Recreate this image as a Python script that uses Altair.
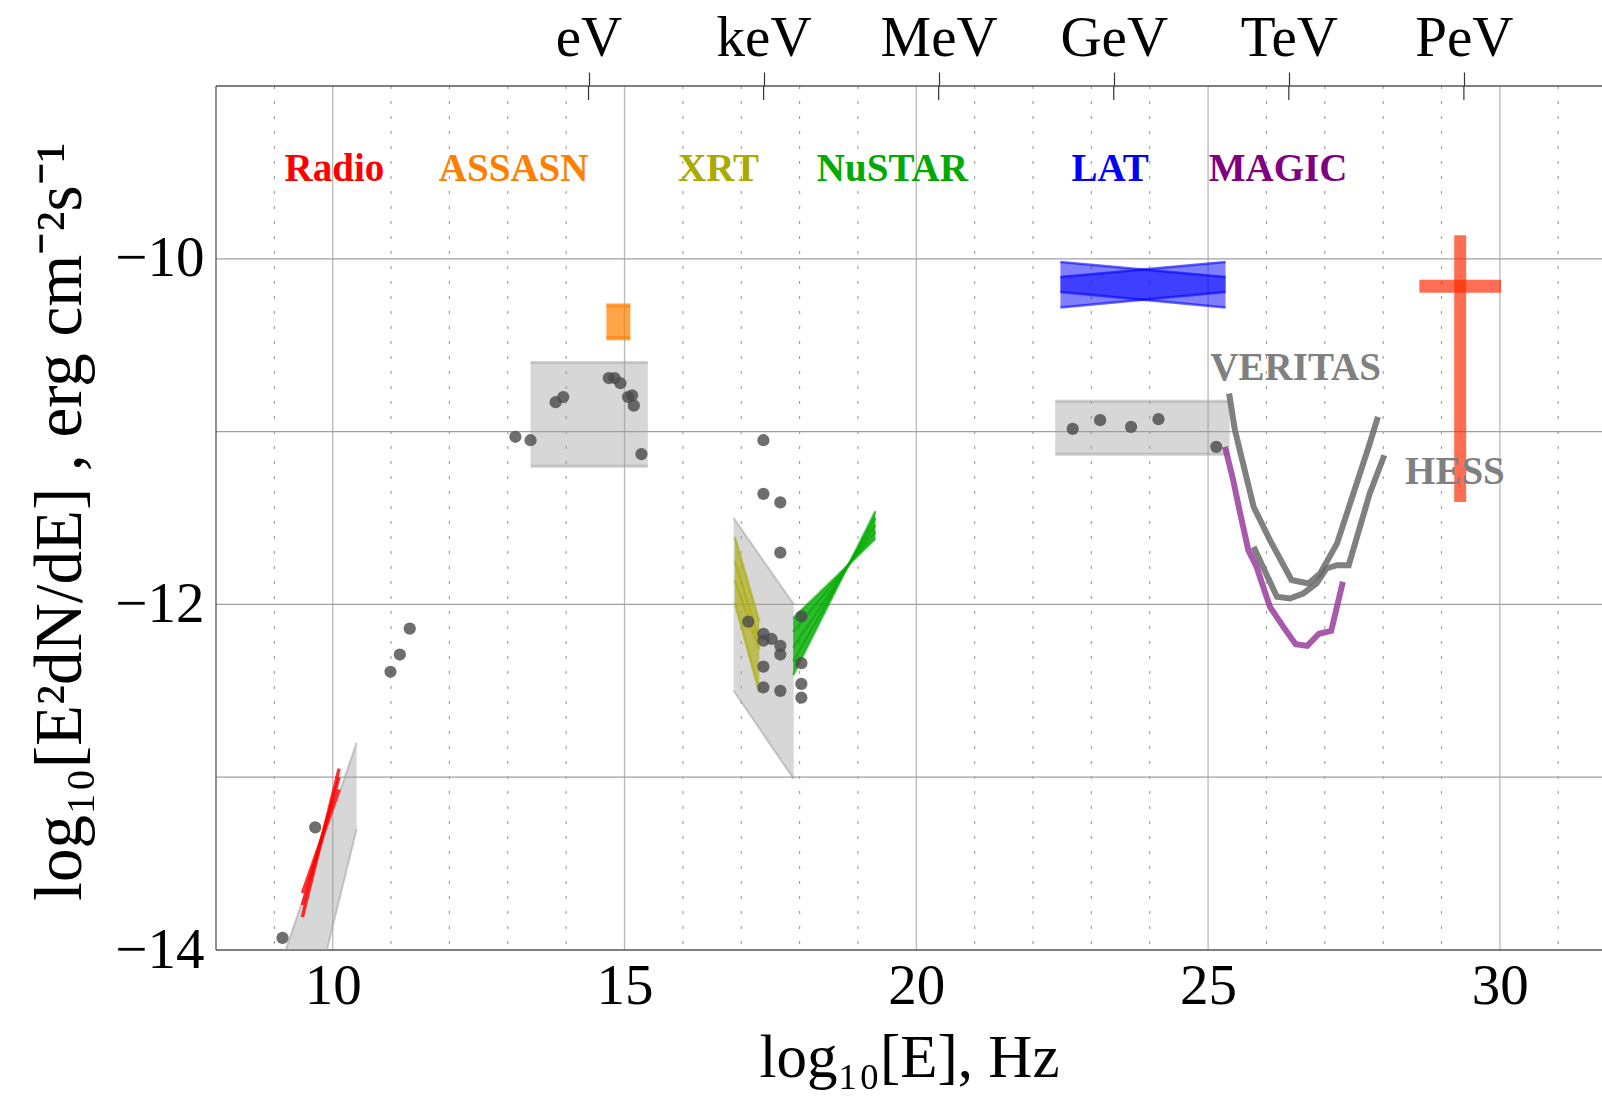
import altair as alt
import pandas as pd

FONT = "Liberation Serif"

# ---------------- data: log10(nu / Hz) vs log10(E^2 dN/dE / erg cm^-2 s^-1) ----------------
# archival SED points
sed_x = [9.14, 9.70, 10.99, 11.15, 11.32,
         13.13, 13.39, 13.82, 13.95, 14.73, 14.83, 14.93, 15.06, 15.13, 15.16, 15.29,
         17.38, 17.38, 17.67, 17.67, 17.12, 17.38, 17.38, 17.52, 17.67, 17.67, 17.38, 17.38, 17.67,
         18.03, 18.03, 18.03, 18.03,
         22.68, 23.15, 23.68, 24.15, 25.14]
sed_y = [-13.93, -13.29, -12.39, -12.29, -12.14,
         -11.03, -11.05, -10.83, -10.80, -10.69, -10.69, -10.72, -10.80, -10.79, -10.85, -11.13,
         -11.05, -11.36, -11.41, -11.70, -12.10, -12.17, -12.21, -12.20, -12.24, -12.29, -12.36, -12.48, -12.50,
         -12.07, -12.34, -12.46, -12.54,
         -10.984, -10.934, -10.973, -10.928, -11.088]

# grey archival ranges: rectangles (optical, GeV)
box_x1 = [13.39, 22.38]
box_x2 = [15.40, 25.37]
box_y1 = [-10.60, -10.824]
box_y2 = [-11.20, -11.131]

# grey archival ranges: slanted bands (radio, X-ray)
radio_band_x = [8.90, 10.41]
radio_band_hi = [-14.29, -12.80]
radio_band_lo = [-15.37, -13.30]
xray_band_x = [16.87, 17.90]
xray_band_hi = [-11.50, -12.00]
xray_band_lo = [-12.50, -13.01]

# radio power-law fits
radio_x = [9.48, 10.11]
radio_start = [-13.81, -13.74, -13.67]
radio_end = [-12.95, -13.00, -13.07]

# ASAS-SN optical flux range
assasn_x = [14.69, 15.10]
assasn_y = [-10.27, -10.46]

# Swift-XRT power-law fits
xrt_x = [16.89, 17.31]
xrt_start = [-11.61, -11.75, -11.86, -11.99]
xrt_end = [-12.10, -12.21, -12.26, -12.51]

# NuSTAR power-law fits and their envelope
nustar_x = [17.89, 19.30]
nustar_start = [-12.08, -12.16, -12.25, -12.33, -12.41]
nustar_end = [-11.62, -11.58, -11.54, -11.50, -11.46]
nustar_env_x = [17.89, 18.84, 19.30]
nustar_env_lo = [-12.41, -11.77, -11.62]
nustar_env_hi = [-12.08, -11.77, -11.46]

# Fermi-LAT bands (two crossing fits)
lat_x = [22.47, 25.30]
lat_hi = {"a": [-10.018, -10.105], "b": [-10.105, -10.018]}
lat_lo = {"a": [-10.192, -10.282], "b": [-10.282, -10.192]}

# IACT sensitivity curves
veritas_x = [25.36, 25.46, 25.78, 26.06, 26.43, 26.72, 26.92, 27.21, 27.77, 27.91]
veritas_y = [-10.780, -10.992, -11.435, -11.628, -11.859, -11.879, -11.821, -11.647, -11.069, -10.915]
hess_x = [25.78, 26.18, 26.40, 26.63, 26.86, 27.03, 27.21, 27.41, 27.77, 28.02]
hess_y = [-11.667, -11.956, -11.966, -11.937, -11.879, -11.792, -11.773, -11.773, -11.358, -11.137]
magic_x = [25.29, 25.43, 25.55, 25.69, 25.83, 26.06, 26.29, 26.50, 26.70, 26.90, 27.11, 27.31]
magic_y = [-11.088, -11.281, -11.474, -11.686, -11.782, -12.014, -12.130, -12.230, -12.240, -12.170, -12.153, -11.869]

# PeV flux estimate with error bars
pev_x, pev_x_lo, pev_x_hi = 29.32, 28.62, 30.02
pev_y, pev_y_lo, pev_y_hi = -10.159, -11.407, -9.864

# instrument labels
label_names = ["Radio", "ASSASN", "XRT", "NuSTAR", "LAT", "MAGIC", "VERITAS", "HESS"]
label_x = [10.03, 13.10, 16.61, 19.59, 23.32, 26.20, 26.50, 29.23]
label_y = [-9.48, -9.48, -9.48, -9.48, -9.48, -9.48, -10.632, -11.235]
label_colors = ["#ff0000", "#ff8000", "#aaaa00", "#00aa00", "#0000ff", "#800080", "#808080", "#808080"]

# axes
x_major = [10, 15, 20, 25, 30]
x_minor = [9, 11, 12, 13, 14, 16, 17, 18, 19, 21, 22, 23, 24, 26, 27, 28, 29, 31]
y_grid = [-13, -12, -11, -10]
y_labels = [-14, -12, -10]
energy_ticks = [14.3834, 17.3834, 20.3834, 23.3834, 26.3834, 29.3834]
energy_names = ["eV", "keV", "MeV", "GeV", "TeV", "PeV"]

# ---------------- chart ----------------
xs = alt.Scale(domain=[8, 31.75], nice=False, zero=False)
ys = alt.Scale(domain=[-14, -9], nice=False, zero=False)


def X(f="x"):
    return alt.X(f"{f}:Q", scale=xs, axis=None)


def Y(f="y"):
    return alt.Y(f"{f}:Q", scale=ys, axis=None)


def segments(x_pair, starts, ends):
    rows = []
    for i, (a, b) in enumerate(zip(starts, ends)):
        rows.append({"id": i, "x": x_pair[0], "y": a})
        rows.append({"id": i, "x": x_pair[1], "y": b})
    return pd.DataFrame(rows)


# grid
grid_minor = alt.Chart(pd.DataFrame({"x": x_minor})).mark_rule(
    color="#9c9c9c", strokeDash=[3, 12], strokeWidth=1.1).encode(x=X())

grid_major = alt.Chart(pd.DataFrame({"x": x_major})).mark_rule(
    color="#b8b8b8", strokeWidth=1.3).encode(
    x=alt.X("x:Q", scale=xs, axis=alt.Axis(
        orient="bottom", values=x_major, ticks=False, domain=False, grid=False,
        labelFont=FONT, labelFontSize=57, labelColor="black", labelPadding=8,
        title="log₁₀[E], Hz", titleFont=FONT, titleFontSize=61,
        titleFontWeight="normal", titleColor="black",
        titleBaseline="alphabetic", titleY=126)))

grid_y = alt.Chart(pd.DataFrame({"y": y_grid})).mark_rule(
    color="#a0a0a0", strokeWidth=1.3).encode(
    y=alt.Y("y:Q", scale=ys, axis=alt.Axis(
        orient="left", values=y_labels, ticks=False, domain=False, grid=False,
        labelFont=FONT, labelFontSize=57, labelColor="black", labelPadding=12,
        title="log₁₀[E²dN/dE] , erg cm⁻²s⁻¹", titleFont=FONT, titleFontSize=67,
        titleFontWeight="normal", titleColor="black", titleAngle=-90,
        titleBaseline="alphabetic", titleAlign="center", titleX=-136, titleY=435)))

# frame (left, top, bottom)
frame_left = alt.Chart(pd.DataFrame({"x": [8]})).mark_rule(
    color="#555555", strokeWidth=1.3).encode(x=X())
frame_h = alt.Chart(pd.DataFrame({"y": [-9, -14]})).mark_rule(
    color="#555555", strokeWidth=1.3).encode(y=Y())

# energy axis on top with ticks crossing the frame
energy = alt.Chart(pd.DataFrame({"x": energy_ticks})).mark_rule(
    color="#333333", strokeWidth=1.2).encode(
    x=alt.X("x:Q", scale=xs, axis=alt.Axis(
        orient="top", values=energy_ticks,
        labelExpr="['eV','keV','MeV','GeV','TeV','PeV'][round((datum.value-14.3834)/3)]",
        tickSize=14, tickColor="#333333", tickWidth=1.2, domain=False, grid=False,
        labelFont=FONT, labelFontSize=57, labelColor="black", labelPadding=5,
        title=None)),
    y=alt.value(0), y2=alt.value(14))

# grey archival ranges
boxes = alt.Chart(pd.DataFrame({"x1": box_x1, "x2": box_x2, "y1": box_y1, "y2": box_y2}))
box_fill = boxes.mark_rect(color="#9a9a9a", opacity=0.4).encode(
    x=X("x1"), x2="x2", y=Y("y1"), y2="y2")
box_edges = alt.layer(
    boxes.mark_rule(color="#9a9a9a", opacity=0.45, strokeWidth=3).encode(x=X("x1"), x2="x2", y=Y("y1")),
    boxes.mark_rule(color="#9a9a9a", opacity=0.45, strokeWidth=3).encode(x=X("x1"), x2="x2", y=Y("y2")),
)

bands = pd.concat([
    pd.DataFrame({"band": "radio", "x": radio_band_x, "lo": radio_band_lo, "hi": radio_band_hi}),
    pd.DataFrame({"band": "xray", "x": xray_band_x, "lo": xray_band_lo, "hi": xray_band_hi}),
])
band_base = alt.Chart(bands)
band_fill = band_base.mark_area(color="#9a9a9a", opacity=0.4, clip=True).encode(
    x=X(), y=Y("lo"), y2="hi", detail="band:N")
band_edge_lo = band_base.mark_line(color="#9a9a9a", opacity=0.5, strokeWidth=2, clip=True).encode(
    x=X(), y=Y("lo"), detail="band:N")
band_edge_hi = band_base.mark_line(color="#9a9a9a", opacity=0.5, strokeWidth=2, clip=True).encode(
    x=X(), y=Y("hi"), detail="band:N")

# radio fits
radio = alt.Chart(segments(radio_x, radio_start, radio_end)).mark_line(
    color="#ff0000", strokeWidth=3.5, opacity=0.8).encode(x=X(), y=Y(), detail="id:N")

# ASAS-SN
assasn_df = pd.DataFrame({"x1": [assasn_x[0]], "x2": [assasn_x[1]], "y1": [assasn_y[0]], "y2": [assasn_y[1]]})
assasn_box = alt.Chart(assasn_df).mark_rect(color="#ff8000", opacity=0.72).encode(
    x=X("x1"), x2="x2", y=Y("y1"), y2="y2")
assasn_caps = alt.layer(
    alt.Chart(assasn_df).mark_rule(color="#ff8000", opacity=0.75, strokeWidth=4).encode(x=X("x1"), x2="x2", y=Y("y1")),
    alt.Chart(assasn_df).mark_rule(color="#ff8000", opacity=0.75, strokeWidth=4).encode(x=X("x1"), x2="x2", y=Y("y2")),
)

# XRT
xrt_env = pd.DataFrame({"x": xrt_x, "lo": [xrt_start[-1], xrt_end[-1]], "hi": [xrt_start[0], xrt_end[0]]})
xrt_fill = alt.Chart(xrt_env).mark_area(color="#aaaa00", opacity=0.6).encode(x=X(), y=Y("lo"), y2="hi")
xrt_lines = alt.Chart(segments(xrt_x, xrt_start, xrt_end)).mark_line(
    color="#aaaa00", strokeWidth=2.5, opacity=0.6).encode(x=X(), y=Y(), detail="id:N")

# NuSTAR
nu_env = pd.DataFrame({"x": nustar_env_x, "lo": nustar_env_lo, "hi": nustar_env_hi})
nu_fill = alt.Chart(nu_env).mark_area(color="#00aa00", opacity=0.8).encode(x=X(), y=Y("lo"), y2="hi")
nu_lines = alt.Chart(segments(nustar_x, nustar_start, nustar_end)).mark_line(
    color="#00aa00", strokeWidth=2.5, opacity=0.6).encode(x=X(), y=Y(), detail="id:N")

# Fermi-LAT
lat_rows = []
for k in ["a", "b"]:
    for i in range(2):
        lat_rows.append({"band": k, "x": lat_x[i], "lo": lat_lo[k][i], "hi": lat_hi[k][i]})
lat_df = pd.DataFrame(lat_rows)
lat_fill = alt.Chart(lat_df).mark_area(color="#0000ff", opacity=0.5).encode(
    x=X(), y=Y("lo"), y2="hi", detail="band:N")
lat_edge_lo = alt.Chart(lat_df).mark_line(color="#0000ff", opacity=0.6, strokeWidth=2.5).encode(
    x=X(), y=Y("lo"), detail="band:N")
lat_edge_hi = alt.Chart(lat_df).mark_line(color="#0000ff", opacity=0.6, strokeWidth=2.5).encode(
    x=X(), y=Y("hi"), detail="band:N")

# IACT curves
curves = pd.concat([
    pd.DataFrame({"name": "VERITAS", "x": veritas_x, "y": veritas_y, "o": range(len(veritas_x))}),
    pd.DataFrame({"name": "HESS", "x": hess_x, "y": hess_y, "o": range(len(hess_x))}),
    pd.DataFrame({"name": "MAGIC", "x": magic_x, "y": magic_y, "o": range(len(magic_x))}),
])
curve_lines = alt.Chart(curves).mark_line(strokeWidth=6, strokeJoin="miter").encode(
    x=X(), y=Y(), order="o:Q",
    color=alt.Color("name:N", scale=alt.Scale(domain=["VERITAS", "HESS", "MAGIC"],
                                              range=["#6a6a6a", "#6a6a6a", "#9a3c9a"]), legend=None),
    opacity=alt.Opacity("name:N", scale=alt.Scale(domain=["VERITAS", "HESS", "MAGIC"],
                                                  range=[0.85, 0.85, 0.9]), legend=None))

# SED points
points = alt.Chart(pd.DataFrame({"x": sed_x, "y": sed_y})).mark_circle(
    size=150, color="#4a4a4a", opacity=0.8).encode(x=X(), y=Y())

# PeV cross
pev_df = pd.DataFrame({"x": [pev_x], "xl": [pev_x_lo], "xh": [pev_x_hi],
                       "y": [pev_y], "yl": [pev_y_lo], "yh": [pev_y_hi]})
pev_v = alt.Chart(pev_df).mark_rule(color="#ff2a00", opacity=0.68, strokeWidth=12, strokeCap="butt").encode(
    x=X(), y=Y("yl"), y2="yh")
pev_h = alt.Chart(pev_df).mark_rule(color="#ff2a00", opacity=0.68, strokeWidth=13, strokeCap="butt").encode(
    x=X("xl"), x2="xh", y=Y())

# labels
labels = alt.Chart(pd.DataFrame({"name": label_names, "x": label_x, "y": label_y})).mark_text(
    font=FONT, fontWeight="bold", fontSize=39, align="center", baseline="middle").encode(
    x=X(), y=Y(), text="name:N",
    color=alt.Color("name:N", scale=alt.Scale(domain=label_names, range=label_colors), legend=None))

chart = alt.layer(
    grid_minor, grid_major, grid_y, frame_left, frame_h, energy,
    box_fill, box_edges, band_fill, band_edge_lo, band_edge_hi,
    radio, assasn_box, assasn_caps,
    xrt_fill, xrt_lines, nu_fill, nu_lines,
    lat_fill, lat_edge_lo, lat_edge_hi,
    curve_lines, points, pev_v, pev_h, labels,
).resolve_axis(x="independent", y="independent").resolve_scale(color="independent", opacity="independent").properties(
    width=1386, height=864,
    padding={"left": 216, "top": 86, "right": 0, "bottom": 146},
    autosize=alt.AutoSizeParams(type="none"),
    background="white",
).configure_view(stroke=None)

chart.save("out.html", embed_options={"renderer": "svg", "actions": False})
